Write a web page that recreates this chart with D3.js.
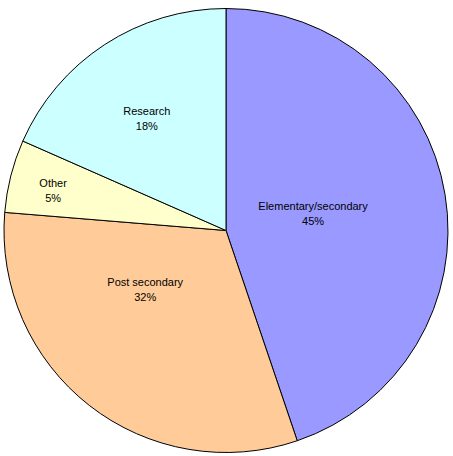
<!DOCTYPE html>
<html>
<head>
<meta charset="utf-8">
<script src="https://cdn.jsdelivr.net/npm/d3@7"></script>
<style>
  body { margin: 0; background: #fff; }
  svg text { font-family: "Liberation Sans", Arial, sans-serif; font-size: 11px; fill: #000; }
</style>
</head>
<body>
<div id="chart"></div>
<script>
// slice data, clockwise from 12 o'clock
const categories = ['Elementary/secondary', 'Post secondary', 'Other', 'Research'];
const values = [44.8, 31.5, 5.3, 18.4];
const colors = ['#9999FF', '#FFCC99', '#FFFFCC', '#CCFFFF'];

// label placement (fraction of radius, angle nudge in degrees)
const labelR = [0.4, 0.45, 0.8, 0.62];
const labelTurn = [-2, 16, -1, -2];

const width = 453, height = 456;
const cx = 226, cy = 230.5, radius = 222;

const svg = d3.select('#chart').append('svg')
  .attr('width', width)
  .attr('height', height);

const g = svg.append('g')
  .attr('transform', `translate(${cx}, ${cy})`);

const pie = d3.pie().sort(null).value(d => d);
const arcs = pie(values);
const arc = d3.arc().innerRadius(0).outerRadius(radius);

g.selectAll('path.slice')
  .data(arcs)
  .enter().append('path')
  .attr('class', 'slice')
  .attr('d', arc)
  .style('fill', (d, i) => colors[i])
  .style('stroke', '#000')
  .style('stroke-width', 1);

const total = d3.sum(values);

const labels = g.selectAll('g.label')
  .data(arcs)
  .enter().append('g')
  .attr('class', 'label')
  .attr('transform', (d, i) => {
    const a = (d.startAngle + d.endAngle) / 2 + labelTurn[i] * Math.PI / 180;
    const r = radius * labelR[i];
    return `translate(${r * Math.sin(a)}, ${-r * Math.cos(a)})`;
  });

labels.append('text')
  .attr('text-anchor', 'middle')
  .attr('y', -3)
  .text((d, i) => categories[i]);

labels.append('text')
  .attr('text-anchor', 'middle')
  .attr('y', 12)
  .text(d => Math.round(d.value / total * 100) + '%');
</script>
</body>
</html>
